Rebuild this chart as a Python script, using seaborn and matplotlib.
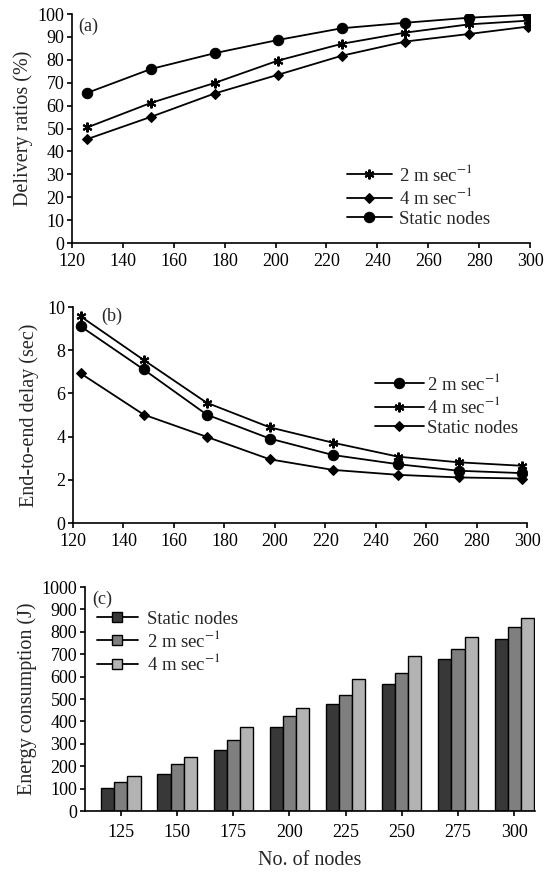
import numpy as np
import pandas as pd
import matplotlib
matplotlib.use('Agg')
import matplotlib.pyplot as plt
import seaborn as sns
from matplotlib.lines import Line2D

# --- data ---
nodes_a = [126, 151, 176, 201, 226, 251, 276, 299]
pdr_2ms = [50.5, 61.2, 69.9, 79.7, 87.0, 91.9, 95.5, 97.1]
pdr_4ms = [45.4, 55.1, 65.3, 73.5, 81.8, 88.0, 91.3, 94.5]
pdr_static = [65.6, 76.0, 82.9, 88.7, 93.8, 96.2, 98.4, 99.7]

nodes_b = [123, 148, 173, 198, 223, 249, 273, 298]
delay_2ms = [9.11, 7.11, 5.02, 3.91, 3.15, 2.72, 2.42, 2.31]
delay_4ms = [9.57, 7.55, 5.57, 4.43, 3.72, 3.07, 2.81, 2.65]
delay_static = [6.93, 5.02, 3.99, 2.95, 2.46, 2.23, 2.11, 2.06]

nodes_c = [125, 150, 175, 200, 225, 250, 275, 300]
energy_static = [104, 167, 271, 375, 476, 568, 679, 766]
energy_2ms = [129, 211, 315, 423, 516, 618, 722, 823]
energy_4ms = [155, 241, 377, 460, 589, 693, 777, 863]

lbl_2 = r'2 m sec$^{-1}$'
lbl_4 = r'4 m sec$^{-1}$'
lbl_s = 'Static nodes'

# --- style ---
sns.set_style('ticks')
plt.rcParams['font.family'] = ['Liberation Serif', 'DejaVu Serif']
plt.rcParams['mathtext.fontset'] = 'stix'
plt.rcParams['axes.linewidth'] = 1.2
plt.rcParams['xtick.major.width'] = 1.2
plt.rcParams['ytick.major.width'] = 1.2
plt.rcParams['xtick.major.size'] = 3.5
plt.rcParams['ytick.major.size'] = 3.5
plt.rcParams['xtick.color'] = 'black'
plt.rcParams['ytick.color'] = 'black'
plt.rcParams['axes.edgecolor'] = 'black'

TICK_FS = 13
LABEL_FS = 14.5
LEG_FS = 13.5

star = dict(marker=(6, 2, 0), markersize=7, markeredgewidth=1.5)
diamond = dict(marker='D', markersize=5.5)
circle = dict(marker='o', markersize=7.5)

fig = plt.figure(figsize=(5.44, 8.73), dpi=100)
ax1 = fig.add_axes([0.1324, 0.7216, 0.842, 0.2623])
ax2 = fig.add_axes([0.1342, 0.4009, 0.8346, 0.2474])
ax3 = fig.add_axes([0.1562, 0.0710, 0.8272, 0.2566])


def style_axis(ax):
    sns.despine(ax=ax)
    ax.tick_params(labelsize=TICK_FS, direction='out', pad=2)
    ax.tick_params(axis='x', pad=4)


# --- (a) delivery ratio ---
for ys, mk, lab in [(pdr_2ms, star, lbl_2), (pdr_4ms, diamond, lbl_4), (pdr_static, circle, lbl_s)]:
    sns.lineplot(x=nodes_a, y=ys, ax=ax1, color='black', lw=1.3, label=lab,
                 markeredgecolor='black', markerfacecolor='black', **mk)
ax1.set_xlim(120, 300)
ax1.set_ylim(0, 100)
ax1.set_xticks(range(120, 301, 20))
ax1.set_yticks(range(0, 101, 10))
ax1.set_ylabel('Delivery ratios (%)', fontsize=LABEL_FS, labelpad=3)
ax1.text(0.013, 0.985, '(a)', transform=ax1.transAxes, va='top', ha='left', fontsize=TICK_FS)
ax1.legend(loc='upper left', bbox_to_anchor=(0.6, 0.345), frameon=False, fontsize=LEG_FS,
           handlelength=2.4, handletextpad=0.4, labelspacing=0.12, borderpad=0, borderaxespad=0)
style_axis(ax1)

# --- (b) end-to-end delay ---
for ys, mk, lab in [(delay_2ms, circle, lbl_2), (delay_4ms, star, lbl_4), (delay_static, diamond, lbl_s)]:
    sns.lineplot(x=nodes_b, y=ys, ax=ax2, color='black', lw=1.3, label=lab,
                 markeredgecolor='black', markerfacecolor='black', **mk)
ax2.set_xlim(120, 300)
ax2.set_ylim(0, 10)
ax2.set_xticks(range(120, 301, 20))
ax2.set_yticks(range(0, 11, 2))
ax2.set_ylabel('End-to-end delay (sec)', fontsize=LABEL_FS, labelpad=6)
ax2.text(0.063, 0.995, '(b)', transform=ax2.transAxes, va='top', ha='left', fontsize=TICK_FS)
ax2.legend(loc='upper left', bbox_to_anchor=(0.665, 0.695), frameon=False, fontsize=LEG_FS,
           handlelength=2.6, handletextpad=0.2, labelspacing=0.12, borderpad=0, borderaxespad=0)
style_axis(ax2)

# --- (c) energy consumption ---
greys = ['#383838', '#7f7f7f', '#b3b3b3']
df_c = pd.DataFrame({
    'nodes': nodes_c * 3,
    'energy': energy_static + energy_2ms + energy_4ms,
    'series': [lbl_s] * 8 + [lbl_2] * 8 + [lbl_4] * 8,
})
sns.barplot(data=df_c, x='nodes', y='energy', hue='series', hue_order=[lbl_s, lbl_2, lbl_4],
            palette=greys, edgecolor='black', linewidth=1.0, width=0.7, ax=ax3, legend=False)
ax3.set_xlim(-0.64, 7.37)
ax3.set_ylim(0, 1000)
ax3.set_yticks(range(0, 1001, 100))
ax3.set_ylabel('Energy consumption (J)', fontsize=LABEL_FS, labelpad=3)
ax3.set_xlabel('No. of nodes', fontsize=LABEL_FS, labelpad=7)
ax3.text(0.016, 0.985, '(c)', transform=ax3.transAxes, va='top', ha='left', fontsize=TICK_FS)
handles = [Line2D([], [], color='black', lw=1.3, marker='s', markersize=7,
                  markerfacecolor=g, markeredgecolor='black') for g in greys]
ax3.legend(handles, [lbl_s, lbl_2, lbl_4], loc='upper left', bbox_to_anchor=(0.026, 0.895),
           frameon=False, fontsize=LEG_FS, handlelength=2.2, handletextpad=0.5,
           labelspacing=0.12, borderpad=0, borderaxespad=0)
style_axis(ax3)
ax3.tick_params(axis='x', pad=6)

fig.savefig('out.png', dpi=100)
